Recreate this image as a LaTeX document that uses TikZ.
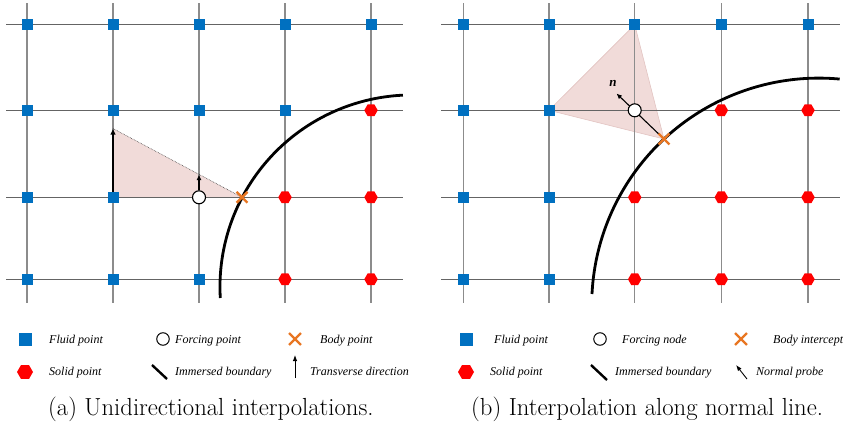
\documentclass[tikz,border=0pt]{standalone}
\usepackage{fontspec}
\usetikzlibrary{shapes.geometric,shapes.misc,arrows.meta}
\newfontfamily\legfont{Liberation Serif}
\definecolor{fluidblue}{RGB}{0,112,192}
\definecolor{solidred}{RGB}{255,0,0}
\definecolor{bodyorange}{RGB}{232,118,34}
\definecolor{trifill}{RGB}{241,219,217}
\definecolor{triedge}{RGB}{226,196,194}
\definecolor{hgrid}{RGB}{100,100,100}
\definecolor{vgrid}{RGB}{140,140,140}
\pgfdeclarelayer{fills}
\pgfdeclarelayer{gridl}
\pgfdeclarelayer{conn}
\pgfsetlayers{fills,gridl,conn,main}
\tikzset{
  fluid/.style={rectangle, fill=fluidblue, minimum size=11pt, inner sep=0pt},
  solidpt/.style={regular polygon, regular polygon sides=6, fill=solidred, minimum size=13.5pt, inner sep=0pt},
  forcing/.style={circle, draw=black, fill=white, line width=1.1pt, minimum size=13pt, inner sep=0pt},
  bodypt/.style={cross out, draw=bodyorange, line width=2.4pt, minimum size=8.5pt, inner sep=0pt},
  hline/.style={draw=hgrid, line width=1.2pt},
  vline/.style={draw=vgrid, line width=1.2pt},
  boundary/.style={draw=black, line width=2.8pt},
  arr/.style={draw=black, line width=1.3pt, -{Latex[length=6pt,width=5.5pt]}},
  legtext/.style={font=\legfont\itshape\fontsize{12}{13}\selectfont, anchor=base west, inner sep=0pt},
  captext/.style={font=\fontsize{24.7}{28}\selectfont, anchor=base west, inner sep=0pt},
}
\begin{document}
\begin{tikzpicture}[x=1pt,y=-1pt]
\useasboundingbox (0,0) rectangle (843,423);

% ---------- grids ----------
\begin{pgfonlayer}{gridl}
  \foreach \y in {24.7,110.3,197.3,279.3} {
    \draw[hline] (6,\y) -- (403,\y);
    \draw[hline] (441,\y) -- (840,\y);
  }
  \foreach \x in {27,113,199,285,371,463.3,549,634.7,721.3,808}
    \draw[vline] (\x,3) -- (\x,303);
\end{pgfonlayer}

% ---------- immersed boundaries ----------
\draw[boundary] (220.3,298) arc[start angle=176.7, end angle=267.3, radius=192];
\draw[boundary] (592,294) arc[start angle=182.8, end angle=275.3, radius=227];

% ---------- panel (a) points ----------
\foreach \c/\x/\s in {0/27/fluid,1/113/fluid,2/199/fluid,3/285/fluid,4/371/fluid}
  \node[\s] (a-0-\c) at (\x,24.7) {};
\foreach \c/\x/\s in {0/27/fluid,1/113/fluid,2/199/fluid,3/285/fluid,4/371/solidpt}
  \node[\s] (a-1-\c) at (\x,110.3) {};
\foreach \c/\x/\s in {0/27/fluid,1/113/fluid,2/199/forcing,3/285/solidpt,4/371/solidpt}
  \node[\s] (a-2-\c) at (\x,197.3) {};
\foreach \c/\x/\s in {0/27/fluid,1/113/fluid,2/199/fluid,3/285/solidpt,4/371/solidpt}
  \node[\s] (a-3-\c) at (\x,279.3) {};
\node[bodypt] (abody) at (242,197.3) {};
\coordinate (atop) at (113,128.5);
\coordinate (ahyp) at (199,174.5);

\begin{pgfonlayer}{fills}
  \fill[trifill] (atop) -- (a-2-1.center) -- (abody.center) -- cycle;
\end{pgfonlayer}
\begin{pgfonlayer}{conn}
  \draw[black!75, line width=0.6pt, densely dotted] (atop) -- (abody.center);
\end{pgfonlayer}
\draw[arr] (a-2-1.north) -- (atop);
\draw[arr, line width=1.1pt, -{Latex[length=5.5pt,width=5pt]}] (a-2-2.north) -- (ahyp);

% ---------- panel (b) points ----------
\foreach \c/\x/\s in {0/463.3/fluid,1/549/fluid,2/634.7/fluid,3/721.3/fluid,4/808/fluid}
  \node[\s] (b-0-\c) at (\x,24.7) {};
\foreach \c/\x/\s in {0/463.3/fluid,1/549/fluid,2/634.7/forcing,3/721.3/solidpt,4/808/solidpt}
  \node[\s] (b-1-\c) at (\x,110.3) {};
\foreach \c/\x/\s in {0/463.3/fluid,1/549/fluid,2/634.7/solidpt,3/721.3/solidpt,4/808/solidpt}
  \node[\s] (b-2-\c) at (\x,197.3) {};
\foreach \c/\x/\s in {0/463.3/fluid,1/549/fluid,2/634.7/solidpt,3/721.3/solidpt,4/808/solidpt}
  \node[\s] (b-3-\c) at (\x,279.3) {};
\node[bodypt] (bbody) at (664,139) {};
\coordinate (ntip) at (616.5,93.5);

\begin{pgfonlayer}{fills}
  \filldraw[fill=trifill, draw=triedge, line width=0.6pt] (b-1-1.center) -- (b-0-2.center) -- (bbody.center) -- cycle;
\end{pgfonlayer}
\begin{pgfonlayer}{conn}
  \draw[arr, line width=1.1pt, -{Latex[length=5.5pt,width=5pt]}] (bbody.center) -- (ntip);
\end{pgfonlayer}
\node[font=\legfont\bfseries\itshape\fontsize{13}{14}\selectfont, inner sep=0pt] (nlab) at (613,83) {n};

% ---------- legend (a) ----------
\node[fluid, minimum size=13pt] (la-fluid) at (25,339) {};
\node[legtext] (la-fluidt) at (49,343) {Fluid point};
\node[forcing, minimum size=12.5pt, line width=1pt] (la-forc) at (163,339) {};
\node[legtext] (la-forct) at (175,343) {Forcing point};
\node[bodypt, minimum size=9.5pt] (la-body) at (295,339) {};
\node[legtext] (la-bodyt) at (320,343) {Body point};
\node[solidpt, minimum size=16pt] (la-solid) at (25,372) {};
\node[legtext] (la-solidt) at (49,375.5) {Solid point};
\coordinate (la-ib1) at (152,365);
\coordinate (la-ib2) at (167,379);
\draw[black, line width=2.4pt] (la-ib1) -- (la-ib2);
\node[legtext] (la-ibt) at (175,375.5) {Immersed boundary};
\coordinate (la-tr1) at (295,378);
\coordinate (la-tr2) at (295,355);
\draw[black, line width=0.9pt, -{Latex[length=6pt,width=4.5pt]}] (la-tr1) -- (la-tr2);
\node[legtext] (la-trt) at (310,375.5) {Transverse direction};
\node[captext] (capa) at (48,415) {(a) Unidirectional interpolations.};

% ---------- legend (b) ----------
\node[fluid, minimum size=13pt] (lb-fluid) at (466,339) {};
\node[legtext] (lb-fluidt) at (494,343) {Fluid point};
\node[forcing, minimum size=12.5pt, line width=1pt] (lb-forc) at (600,339) {};
\node[legtext] (lb-forct) at (622,343) {Forcing node};
\node[bodypt, minimum size=9.5pt] (lb-body) at (741,339) {};
\node[legtext] (lb-bodyt) at (773,343) {Body intercept};
\node[solidpt, minimum size=16pt] (lb-solid) at (466,372) {};
\node[legtext] (lb-solidt) at (490,375.5) {Solid point};
\coordinate (lb-ib1) at (591,365);
\coordinate (lb-ib2) at (607,380);
\draw[black, line width=2.4pt] (lb-ib1) -- (lb-ib2);
\node[legtext] (lb-ibt) at (615,375.5) {Immersed boundary};
\coordinate (lb-np1) at (747,379);
\coordinate (lb-np2) at (736,365);
\draw[black, line width=0.9pt, -{Latex[length=6pt,width=4.5pt]}] (lb-np1) -- (lb-np2);
\node[legtext] (lb-npt) at (756,375.5) {Normal probe};
\node[captext] (capb) at (471,415) {(b) Interpolation along normal line.};
\end{tikzpicture}
\end{document}
